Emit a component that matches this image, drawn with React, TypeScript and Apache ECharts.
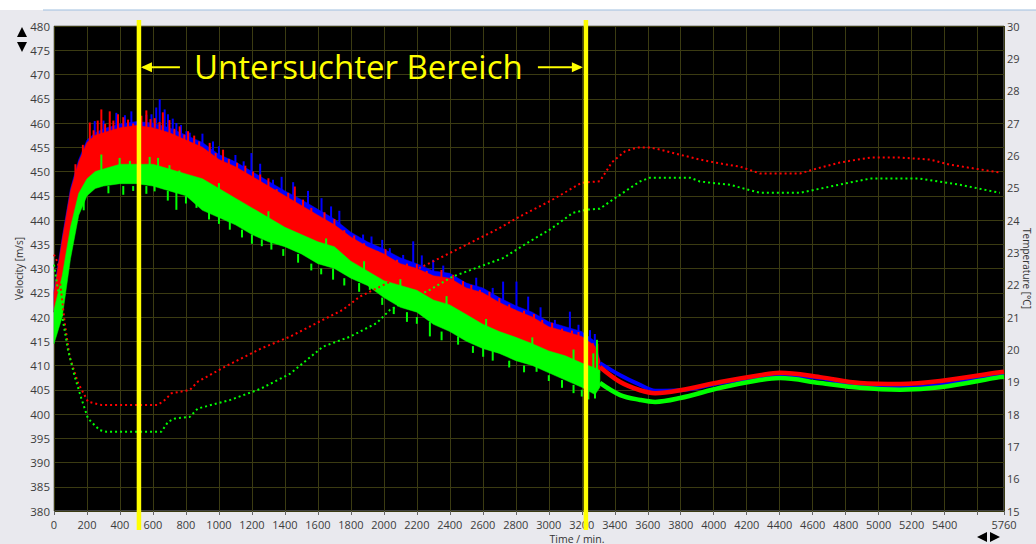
import React, { useEffect, useRef } from "react";
import * as echarts from "echarts";

// ---- velocity scatter envelopes (noisy phase, 0 … 3310 min) ----
const bandTime = [0, 50, 100, 150, 200, 250, 300, 400, 500, 600, 700, 800, 900, 1000, 1100, 1200, 1300, 1400, 1500, 1600, 1700, 1800, 1900, 2000, 2100, 2200, 2300, 2400, 2500, 2600, 2700, 2800, 2900, 3000, 3100, 3200, 3280, 3310];
const blueUpper = [425.5, 436.5, 446.5, 452.5, 456.5, 458, 458.8, 459.8, 460.3, 460, 459, 457.5, 456, 453.5, 452, 450, 448, 446, 444.2, 442.2, 440.2, 437.5, 435.5, 434, 432.2, 431, 429.5, 429, 427, 426, 424, 422.3, 421, 419, 418, 417, 415, 411];
const redUpper = [425, 436, 446, 452, 456, 457.5, 458, 459, 459.5, 459, 458, 456.5, 455, 452.5, 451, 449, 447, 445, 443, 441, 439, 436.5, 434.5, 433, 431, 430, 428.5, 428, 426, 425, 423, 421.4, 420, 418, 417, 416, 414, 411];
const redLower = [421, 428, 438, 445, 448, 449.5, 450, 451, 451, 451, 450, 449, 448, 446, 444, 442, 440, 438, 436.5, 435, 434, 431, 429, 427, 426, 425, 423, 422, 420, 418, 416.5, 415.3, 414, 412.5, 411.5, 410, 409, 408.5];
const greenUpper = [421.5, 428.5, 438.5, 445.5, 448.5, 450, 450.5, 451.5, 451.5, 451.5, 450.5, 449.5, 448.5, 446.5, 444.5, 442.5, 440.5, 438.5, 437, 435.5, 434.5, 431.5, 429.5, 427.5, 426.5, 425.5, 423.5, 422.5, 420.5, 418.5, 417, 415.8, 414.5, 413, 412, 410.5, 409.5, 409];
const greenLower = [414.5, 420, 432, 441, 445, 446.5, 447, 447.5, 447.5, 447, 446, 445, 442, 440.5, 439, 437, 435.5, 434.5, 433, 431, 430, 428, 426.5, 424, 422, 421, 418.5, 417, 415, 413.5, 412.5, 411, 410, 408.5, 407, 405.5, 404, 405.5];

// individual peaks: [time, from, to]
const blueSpikes = [
  [247, 457, 460.4], [300, 458, 460.5], [378, 459, 462.1], [430, 459, 461.6], [469, 459, 462.4],
  [520, 460, 462.9], [560, 460, 461.7], [591, 459, 461.8], [620, 460, 463.2], [641, 459, 464.9],
  [671, 458, 462.8], [691, 458, 461.8], [720, 458, 460.9], [742, 457, 460], [770, 457, 459.6],
  [803, 456, 458.3], [823, 455, 458], [853, 455, 456.2], [900, 455, 457.8], [964, 453, 456.2],
  [1000, 453, 455.2], [1100, 450, 453.4], [1150, 450, 452.1], [1197, 449, 453.8], [1250, 448, 451.6],
  [1328, 447, 448.3], [1380, 446, 448.9], [1450, 445, 447.8], [1540, 443, 446.0], [1622, 440, 444.5],
  [1680, 440, 442.8], [1730, 439, 441.9], [1874, 435, 437], [1925, 434, 436.6], [1990, 433, 435.9],
  [2036, 432, 434.2], [2117, 430, 432.8], [2178, 430, 435.6], [2230, 430, 432.7], [2299, 428, 431.8],
  [2360, 428, 430.6], [2450, 427, 427.7], [2560, 425, 428.1], [2660, 424, 426.0], [2723, 423, 427.3],
  [2804, 421, 427.3], [2875, 420, 424.2], [2950, 419, 422.0], [3037, 418, 419.4], [3128, 417, 421.1],
  [3180, 415, 418.4], [3250, 414, 417.3], [3279, 414, 416.5],
];
const redSpikes = [
  [130, 448, 451.5], [175, 452, 455.5], [217, 456, 460.1], [240, 455, 458.5], [265, 456, 460.5],
  [287, 457, 462.8], [310, 456, 459.8], [338, 458, 462.4], [360, 457, 460.5], [388, 458, 461.8],
  [420, 457, 461.2], [449, 459, 460.7], [480, 457, 459.9], [530, 458, 461.5], [560, 459, 462.6],
  [585, 458, 460.8], [611, 459, 461], [640, 457, 460.2], [660, 458, 462.2], [700, 456, 460.6],
  [730, 456, 458.8], [762, 456, 459.3], [790, 455, 457.6], [813, 456, 458.3], [850, 454, 457.4],
  [880, 453, 456.2], [944, 453, 455.9], [980, 451, 453.8], [1025, 452, 454.5], [1060, 450, 452.6],
  [1110, 449, 451.8], [1160, 448, 451.2], [1207, 448, 450], [1250, 447, 449.4], [1300, 445, 448.6],
  [1350, 444, 446.4], [1420, 443, 445.6], [1460, 443, 446.9], [1510, 441, 444.2], [1560, 440, 442.5],
  [1640, 438, 441.6], [1700, 437, 440.2], [1760, 435, 437.9], [1820, 434, 436.8], [1880, 432, 435.2],
  [1960, 431, 433.6], [2010, 430, 434.0], [2080, 429, 431.8], [2140, 428, 431.0], [2200, 428, 430.9],
  [2260, 426, 429.5], [2349, 428, 429.7], [2420, 426, 428.7], [2480, 425, 427.4], [2530, 423, 426.6],
  [2582, 424, 425.6], [2640, 423, 425.2], [2700, 421, 423.9], [2760, 420, 422.6], [2794, 420, 421.5],
  [2850, 419, 421.3], [2910, 418, 420.6], [2960, 417, 419.4], [3020, 416, 418.8], [3080, 415, 417.6],
  [3140, 415, 417.2], [3180, 414, 416.9], [3230, 413, 416.2], [3267, 414, 414.6], [3295, 411, 414.5],
];
const greenSpikesUp = [
  [287, 450, 453.5], [398, 451, 452.8], [460, 450, 452.2], [520, 451, 452.8], [580, 450, 453.0],
  [631, 451, 452.8], [700, 449, 451.3], [760, 448, 450.2], [1000, 446, 447.6], [1300, 440, 441.8],
  [1650, 434, 436.2], [1880, 429, 431.5], [2100, 426, 427.8], [2380, 422, 424.3], [2620, 418, 419.6],
  [2900, 414, 415.8], [3150, 411, 413.3], [3270, 409, 412.5], [3292, 409, 415.3],
];
const greenSpikesDown = [
  [180, 444, 442.0], [330, 447, 445.5], [420, 447, 445.2], [480, 447, 446.0], [560, 447, 445.4],
  [610, 447, 445.9], [690, 446, 444.0], [742, 446, 442.1], [800, 445, 443.4], [864, 445, 442.5],
  [940, 442, 440.1], [1000, 441, 439.2], [1066, 440, 438], [1140, 438, 436.4], [1200, 437, 435.1],
  [1260, 436, 434.6], [1318, 436, 433.9], [1390, 434, 432.6], [1480, 433, 431.2], [1560, 431, 429.6],
  [1620, 430, 428.8], [1692, 430, 427.7], [1760, 428, 426.5], [1850, 427, 425.2], [1915, 427, 425.6],
  [1990, 424, 422.5], [2060, 422, 420.6], [2140, 421, 419.0], [2200, 420, 418.6], [2279, 419, 416],
  [2350, 417, 415.2], [2450, 416, 414.3], [2540, 414, 412.6], [2602, 414, 411.8], [2660, 413, 411.0],
  [2760, 411, 409.6], [2850, 410, 408.6], [2926, 410, 408.7], [3000, 408, 406.8], [3080, 407, 405.4],
  [3150, 406, 404.3], [3200, 405, 403.6], [3240, 406, 403], [3280, 405, 403.2],
];

// ---- velocity after the noisy phase ----
const smoothTime = [3310, 3433, 3554, 3645, 3797, 4040, 4280, 4402, 4645, 4887, 5130, 5373, 5735, 5760];
const blueSmooth = [410.5, 408.0, 406.0, 404.8, 404.9, 406.4, 407.6, 408.0, 407.4, 405.8, 405.4, 406.0, 408.0, 408.1];
const redSmooth = [409.7, 406.6, 404.9, 404.3, 404.9, 406.6, 408.0, 408.5, 407.6, 406.4, 406.2, 406.8, 408.6, 408.7];
const greenSmooth = [406.4, 403.9, 402.9, 402.5, 403.3, 405.4, 407.0, 407.4, 406.4, 405.4, 405.0, 405.5, 407.6, 407.7];

// ---- temperatures (right axis) ----
const tempRedTime = [0, 24, 65, 95, 146, 206, 287, 629, 671, 712, 823, 872, 1050, 1258, 1430, 1630, 1751, 1854, 2050, 2259, 2479, 2683, 2843, 3006, 3199, 3310, 3382, 3461, 3534, 3613, 3673, 3795, 3916, 4037, 4159, 4280, 4523, 4645, 4766, 4948, 5130, 5312, 5432, 5735];
const tempRed = [22.93, 22.67, 20.82, 19.77, 18.96, 18.38, 18.28, 18.28, 18.43, 18.64, 18.74, 19.0, 19.5, 20.03, 20.39, 20.91, 21.22, 21.63, 22.12, 22.62, 23.18, 23.7, 24.16, 24.58, 25.15, 25.2, 25.78, 26.12, 26.24, 26.24, 26.18, 26.02, 25.87, 25.75, 25.65, 25.44, 25.44, 25.62, 25.78, 25.93, 25.93, 25.87, 25.71, 25.47];
const tempGreenTime = [0, 40, 85, 126, 166, 206, 277, 318, 651, 692, 732, 823, 872, 1066, 1248, 1430, 1630, 1794, 1956, 2037, 2115, 2279, 2418, 2582, 2722, 2885, 3006, 3146, 3229, 3310, 3388, 3552, 3613, 3856, 3916, 4098, 4280, 4523, 4645, 4826, 4948, 5251, 5493, 5735];
const tempGreen = [22.62, 21.32, 19.98, 19.15, 18.48, 17.86, 17.5, 17.45, 17.45, 17.76, 17.86, 17.91, 18.17, 18.43, 18.77, 19.24, 20.08, 20.39, 20.81, 21.22, 21.44, 21.84, 22.25, 22.56, 22.82, 23.34, 23.7, 24.22, 24.32, 24.35, 24.63, 25.19, 25.31, 25.31, 25.19, 25.09, 24.84, 24.84, 24.97, 25.16, 25.28, 25.28, 25.09, 24.84];

// ---- axes and marked range ----
const timeRange = [0, 5760];
const timeStep = 200;
const velocityRange = [380, 480];
const velocityStep = 5;
const temperatureRange = [15, 30];
const temperatureStep = 1;
const studiedRange = [515, 3225];
const studiedLabel = "Untersuchter Bereich";

const BLUE = "#0000ff";
const RED = "#ff0000";
const GREEN = "#00ff00";
const YELLOW = "#ffff00";
const LABEL_COLOR = "#3c3c3c";
const GRID_COLOR = "#3b3b12";
const FONT = "'Open Sans', 'Noto Sans', sans-serif";

const pairs = (xs: number[], ys: number[]) => xs.map((x, i) => [x, ys[i]]);

function bandSeries(upper: number[], lower: number[], color: string, z: number) {
  return {
    type: "custom",
    silent: true,
    z,
    data: [[bandTime[0], upper[0]]],
    encode: { x: 0, y: 1 },
    renderItem: (params: any, api: any) => {
      if (params.dataIndex !== 0) return null;
      const pts: number[][] = [];
      for (let i = 0; i < bandTime.length; i++) pts.push(api.coord([bandTime[i], upper[i]]));
      for (let i = bandTime.length - 1; i >= 0; i--) pts.push(api.coord([bandTime[i], lower[i]]));
      return { type: "polygon", shape: { points: pts }, style: { fill: color, stroke: color, lineWidth: 0.5 } };
    },
  };
}

function spikeSeries(data: number[][], color: string, z: number) {
  return {
    type: "custom",
    silent: true,
    z,
    data,
    encode: { x: 0, y: [1, 2] },
    renderItem: (_params: any, api: any) => {
      const t = api.value(0);
      const a = api.coord([t, api.value(1)]);
      const b = api.coord([t, api.value(2)]);
      return {
        type: "line",
        shape: { x1: a[0], y1: a[1], x2: b[0], y2: b[1] },
        style: { stroke: color, lineWidth: 2 },
      };
    },
  };
}

function smoothSeries(ys: number[], color: string, width: number, z: number) {
  return {
    type: "line",
    z,
    data: pairs(smoothTime, ys),
    smooth: 0.35,
    showSymbol: false,
    symbol: "none",
    silent: true,
    lineStyle: { color, width },
  };
}

function tempSeries(xs: number[], ys: number[], color: string) {
  return {
    type: "line",
    yAxisIndex: 1,
    z: 20,
    data: pairs(xs, ys),
    showSymbol: false,
    symbol: "none",
    silent: true,
    lineStyle: { color, width: 2, type: [2, 3] },
  };
}

const annotationSeries = {
  type: "custom",
  z: 50,
  silent: true,
  clip: false,
  data: [[studiedRange[0], studiedRange[1]]],
  encode: { x: [0, 1] },
  renderItem: (_params: any, api: any) => {
    const xa = api.coord([api.value(0), velocityRange[1]])[0];
    const xb = api.coord([api.value(1), velocityRange[1]])[0];
    const top = api.coord([0, velocityRange[1]])[1] - 6;
    const bottom = api.coord([0, velocityRange[0]])[1] + 19;
    const ay = api.coord([0, 471.5])[1];
    const arrow = { stroke: YELLOW, lineWidth: 2 };
    return {
      type: "group",
      children: [
        { type: "line", shape: { x1: xa, y1: top, x2: xa, y2: bottom }, style: { stroke: YELLOW, lineWidth: 4.5 } },
        { type: "line", shape: { x1: xb, y1: top, x2: xb, y2: bottom }, style: { stroke: YELLOW, lineWidth: 4.5 } },
        { type: "line", shape: { x1: xa + 4, y1: ay, x2: xa + 41, y2: ay }, style: arrow },
        { type: "polygon", shape: { points: [[xa + 2, ay], [xa + 13, ay - 5], [xa + 13, ay + 5]] }, style: { fill: YELLOW } },
        { type: "line", shape: { x1: xb - 48, y1: ay, x2: xb - 5, y2: ay }, style: arrow },
        { type: "polygon", shape: { points: [[xb - 3, ay], [xb - 14, ay - 5], [xb - 14, ay + 5]] }, style: { fill: YELLOW } },
        {
          type: "text",
          style: {
            text: studiedLabel,
            x: (xa + xb) / 2 - 4,
            y: ay - 1,
            fill: YELLOW,
            font: `33px 'Open Sans', 'Noto Sans', sans-serif`,
            align: "center",
            verticalAlign: "middle",
          },
        },
      ],
    };
  },
};

export default function App() {
  const ref = useRef<HTMLDivElement>(null);

  useEffect(() => {
    if (!ref.current) return;
    const chart = echarts.init(ref.current, undefined, { renderer: "svg" });
    chart.setOption({
      animation: false,
      backgroundColor: "#e9e9ee",
      graphic: [
        { type: "rect", z: -10, shape: { x: 0, y: 0, width: 1036, height: 10 }, style: { fill: "#ffffff" } },
        { type: "line", z: -9, shape: { x1: 43, y1: 10, x2: 1036, y2: 10 }, style: { stroke: "#9fbfdf", lineWidth: 1 } },
        { type: "polygon", shape: { points: [[17, 37], [22, 27], [27, 37]] }, style: { fill: "#000" } },
        { type: "polygon", shape: { points: [[17, 42], [27, 42], [22, 52]] }, style: { fill: "#000" } },
        { type: "polygon", shape: { points: [[987, 532], [987, 542], [977, 537]] }, style: { fill: "#000" } },
        { type: "polygon", shape: { points: [[990, 532], [990, 542], [1000, 537]] }, style: { fill: "#000" } },
        {
          type: "text",
          x: 577,
          y: 533,
          style: { text: "Time / min.", fill: "#333", font: `10.5px ${FONT}`, align: "center", verticalAlign: "top" },
        },
      ],
      grid: {
        left: 54,
        right: 32,
        top: 26,
        bottom: 33,
        outerBoundsMode: "none",
        containLabel: false,
        show: true,
        backgroundColor: "#000000",
        borderColor: "#808080",
        borderWidth: 1,
      },
      xAxis: {
        type: "value",
        min: timeRange[0],
        max: timeRange[1],
        interval: timeStep,
        axisLine: { show: false },
        axisTick: { show: true, length: 4, lineStyle: { color: "#666" } },
        splitLine: { show: true, lineStyle: { color: GRID_COLOR, width: 1 } },
        axisLabel: {
          color: LABEL_COLOR,
          fontFamily: FONT,
          fontSize: 11,
          lineHeight: 11,
          margin: 8,
          showMaxLabel: true,
          hideOverlap: false,
          formatter: (v: number) => (v === 5600 ? "" : String(v)),
        },
      },
      yAxis: [
        {
          type: "value",
          min: velocityRange[0],
          max: velocityRange[1],
          interval: velocityStep,
          name: "Velocity [m/s]",
          nameLocation: "middle",
          nameRotate: 90,
          nameGap: 30,
          nameMoveOverlap: false,
          nameTextStyle: { color: "#333", fontFamily: FONT, fontSize: 10 },
          axisLine: { show: false },
          axisTick: { show: false },
          splitLine: { show: true, lineStyle: { color: GRID_COLOR, width: 1 } },
          axisLabel: { color: LABEL_COLOR, fontFamily: FONT, fontSize: 11.5, margin: 4 },
        },
        {
          type: "value",
          position: "right",
          min: temperatureRange[0],
          max: temperatureRange[1],
          interval: temperatureStep,
          name: "Temperature [°C]",
          nameLocation: "middle",
          nameRotate: -90,
          nameGap: 18,
          nameMoveOverlap: false,
          nameTextStyle: { color: "#333", fontFamily: FONT, fontSize: 10 },
          axisLine: { show: false },
          axisTick: { show: false },
          splitLine: { show: false },
          axisLabel: { color: LABEL_COLOR, fontFamily: FONT, fontSize: 11, lineHeight: 10, margin: 3 },
        },
      ],
      series: [
        bandSeries(blueUpper, redLower, BLUE, 2),
        spikeSeries(blueSpikes, BLUE, 3),
        bandSeries(redUpper, redLower, RED, 4),
        spikeSeries(redSpikes, RED, 5),
        bandSeries(greenUpper, greenLower, GREEN, 6),
        spikeSeries(greenSpikesUp, GREEN, 7),
        spikeSeries(greenSpikesDown, GREEN, 7),
        smoothSeries(blueSmooth, BLUE, 4, 8),
        smoothSeries(redSmooth, RED, 4.5, 9),
        smoothSeries(greenSmooth, GREEN, 4.5, 10),
        tempSeries(tempRedTime, tempRed, RED),
        tempSeries(tempGreenTime, tempGreen, GREEN),
        annotationSeries,
      ],
    });
    return () => chart.dispose();
  }, []);

  return <div ref={ref} style={{ position: "absolute", left: 0, top: 0, width: 1036, height: 544 }} />;
}
